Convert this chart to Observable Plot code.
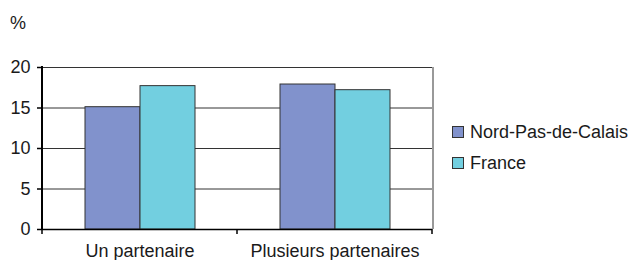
<!DOCTYPE html>
<html><head><meta charset="utf-8">
<script src="https://cdn.jsdelivr.net/npm/d3@7"></script>
<script src="https://cdn.jsdelivr.net/npm/@observablehq/plot@0.6"></script>
<style>
body{margin:0;background:#fff;}
#wrap{position:relative;width:633px;height:260px;font-family:"Liberation Sans",Arial,sans-serif;color:#1a1a1a;}
#pct{position:absolute;left:10px;top:14px;font-size:18px;line-height:18px;}
.leg{position:absolute;left:452px;font-size:18px;line-height:18px;display:flex;align-items:center;white-space:nowrap;}
.sw{width:10px;height:10px;border:1px solid #333;margin-right:6px;}
</style></head><body><div id="wrap"></div>
<script>
const categories = ["Un partenaire", "Plusieurs partenaires"];
const series = ["Nord-Pas-de-Calais", "France"];
const nordValues = [15.1, 17.9];
const franceValues = [17.7, 17.2];
const yTicks = [0, 5, 10, 15, 20];
const colors = ["#8192cc", "#72cfe0"];
const unitLabel = "%";

const data = categories.flatMap((c, i) => [
  {cat: c, series: series[0], value: nordValues[i]},
  {cat: c, series: series[1], value: franceValues[i]}
]);

const plot = Plot.plot({
  width: 633, height: 260,
  marginLeft: 41, marginRight: 201, marginTop: 67, marginBottom: 31,
  style: {fontFamily: "Liberation Sans, Arial, sans-serif", fontSize: "18px", color: "#1a1a1a", background: "#fff", overflow: "visible"},
  fx: {domain: categories, padding: 0, label: null, axis: null},
  x: {domain: series, paddingInner: 0, paddingOuter: 0.745, axis: null},
  y: {domain: [0, 20], label: null, axis: null},
  color: {domain: series, range: colors},
  marks: [
    Plot.gridY(yTicks, {stroke: "#333", strokeOpacity: 1, strokeWidth: 1}),
    Plot.barY(data, {fx: "cat", x: "series", y: "value", fill: "series", stroke: "#333", strokeWidth: 1}),
    Plot.ruleY([0], {stroke: "#000", strokeWidth: 1.5}),
    Plot.axisY(yTicks, {anchor: "left", tickSize: 5, tickPadding: 7, stroke: "#000", strokeWidth: 1.5, tickFormat: d => d, label: null, fill: "#1a1a1a"}),
    Plot.axisFx({anchor: "bottom", tickSize: 0, tickPadding: 15, label: null, fill: "#1a1a1a"})
  ]
});

const wrap = document.getElementById("wrap");
wrap.appendChild(plot);

// structural lines from the library scales
const fx = plot.scale("fx"), y = plot.scale("y");
const svg = d3.select(plot);
const y0 = y.apply(0), yTop = y.apply(20);
const bounds = categories.map(c => fx.apply(c)).concat([fx.apply(categories[categories.length - 1]) + fx.bandwidth]);
const left = bounds[0], right = bounds[bounds.length - 1];
svg.append("line").attr("x1", right + 1).attr("x2", right + 1).attr("y1", yTop).attr("y2", y0)
  .attr("stroke", "#999").attr("stroke-width", 2);
svg.append("line").attr("x1", left).attr("x2", left).attr("y1", yTop - 1).attr("y2", y0 + 1)
  .attr("stroke", "#000").attr("stroke-width", 2);
bounds.forEach(b => svg.append("line").attr("x1", b).attr("x2", b).attr("y1", y0).attr("y2", y0 + 5)
  .attr("stroke", "#000").attr("stroke-width", 1.5));

// unit label and legend
const pct = document.createElement("div");
pct.id = "pct"; pct.textContent = unitLabel; wrap.appendChild(pct);
series.forEach((s, i) => {
  const d = document.createElement("div");
  d.className = "leg";
  d.style.top = (123 + i * 31) + "px";
  const sw = document.createElement("span");
  sw.className = "sw"; sw.style.background = colors[i];
  d.appendChild(sw);
  d.appendChild(document.createTextNode(s));
  wrap.appendChild(d);
});
</script></body></html>
